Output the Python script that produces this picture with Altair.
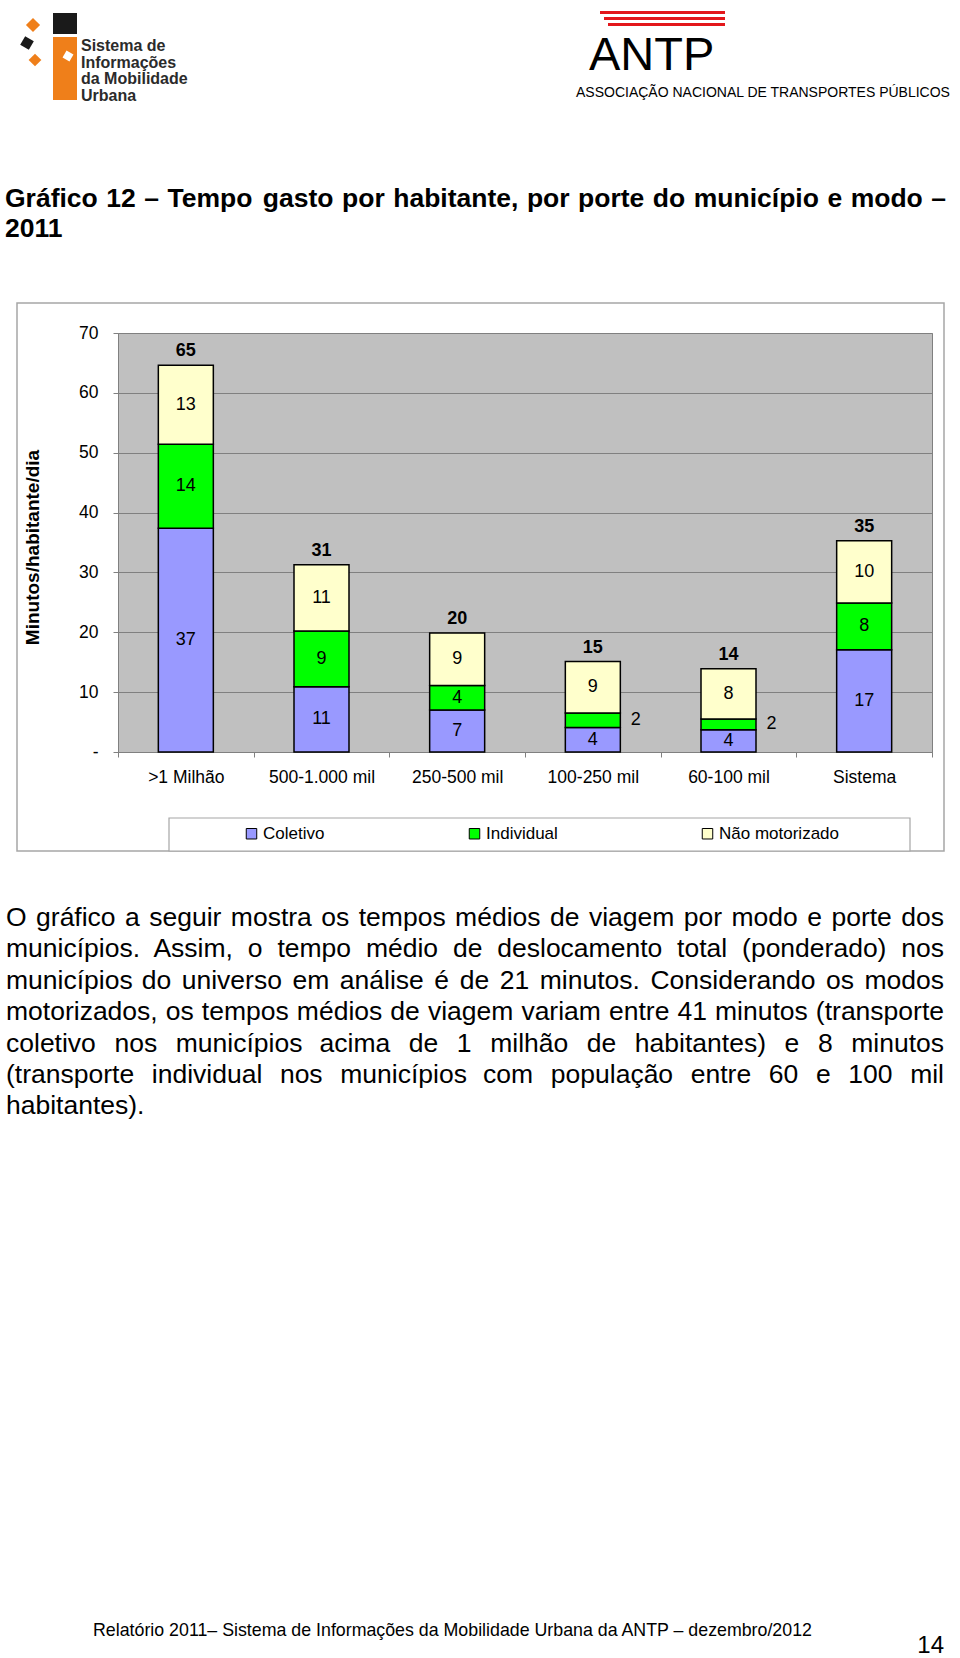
import unicodedata
import altair as alt
import pandas as pd

# ---------------- data ----------------
categories = [">1 Milhão", "500-1.000 mil", "250-500 mil", "100-250 mil", "60-100 mil", "Sistema"]
series = ["Coletivo", "Individual", "Não motorizado"]
coletivo = [37.4, 10.9, 7.0, 4.1, 3.7, 17.1]
individual = [14.0, 9.3, 4.1, 2.4, 1.8, 7.8]
nao_motorizado = [13.2, 11.1, 8.8, 8.6, 8.4, 10.4]
colors = ["#9999FF", "#00FF00", "#FFFFCC"]
y_ticks = [0, 10, 20, 30, 40, 50, 60, 70]
y_title = "Minutos/habitante/dia"

title_lines = ["Gráfico 12 – Tempo gasto por habitante, por porte do município e modo –", "2011"]
paragraph_lines = [
    "O gráfico a seguir mostra os tempos médios de viagem por modo e porte dos",
    "municípios. Assim, o tempo médio de deslocamento total (ponderado) nos",
    "municípios do universo em análise é de 21 minutos. Considerando os modos",
    "motorizados, os tempos médios de viagem variam entre 41 minutos (transporte",
    "coletivo nos municípios acima de 1 milhão de habitantes) e 8 minutos",
    "(transporte individual nos municípios com população entre 60 e 100 mil",
    "habitantes).",
]
footer_text = "Relatório 2011– Sistema de Informações da Mobilidade Urbana da ANTP – dezembro/2012"
page_number = "14"
logo_left_lines = ["Sistema de", "Informações", "da Mobilidade", "Urbana"]
logo_right_big = "ANTP"
logo_right_small = "ASSOCIAÇÃO NACIONAL DE TRANSPORTES PÚBLICOS"

FONT = "Liberation Sans, Arial, sans-serif"

# ---------------- layout ----------------
W, H = 960, 1658
X0, Y0 = 118, 333          # plot origin on the page
PW, PH = 814, 419          # plot size


def px(x):
    return x - X0


def py(y):
    return y - Y0


# ---------------- chart table ----------------
rows = []
for i, cat in enumerate(categories):
    base = 0.0
    for s, vals in zip(series, [coletivo, individual, nao_motorizado]):
        v = vals[i]
        rows.append(dict(cat=cat, serie=s, v=v, lo=base, hi=base + v, mid=base + v / 2,
                         outside=bool(s == "Individual" and v < 3)))
        base += v
df = pd.DataFrame(rows)
tot = pd.DataFrame({"cat": categories,
                    "total": [a + b + c for a, b, c in zip(coletivo, individual, nao_motorizado)]})

xenc = alt.X("cat:N", sort=categories,
             scale=alt.Scale(paddingInner=0, paddingOuter=0),
             axis=alt.Axis(title=None, labelAngle=0, tickBand="extent", grid=False,
                           domainColor="#808080", tickColor="#808080", tickSize=5,
                           labelFont=FONT, labelFontSize=17.5, labelColor="black",
                           labelPadding=11))
yscale = alt.Scale(domain=[0, 70], nice=False, zero=True)
yaxis = alt.Axis(values=y_ticks, title=y_title, grid=True, gridColor="#808080", gridWidth=1,
                 domain=False, tickColor="#808080", tickSize=5,
                 labelFont=FONT, labelFontSize=17.5, labelColor="black", labelPadding=15,
                 labelExpr="datum.value == 0 ? '-\u00a0\u00a0\u00a0\u00a0' : datum.label",
                 titleFont=FONT, titleFontSize=19, titleFontWeight="bold", titleColor="black",
                 titleAngle=270, titleX=px(32), titleY=py(547), titleAlign="center",
                 titleBaseline="middle")

bars = alt.Chart(df).mark_bar(width=55, stroke="black", strokeWidth=1.5).encode(
    x=xenc,
    y=alt.Y("lo:Q", scale=yscale, axis=yaxis),
    y2="hi:Q",
    color=alt.Color("serie:N", scale=alt.Scale(domain=series, range=colors),
                    legend=alt.Legend(title=None, orient="none", legendX=px(243), legendY=py(825),
                                      direction="horizontal", columns=3, columnPadding=141,
                                      symbolType="square", symbolSize=110, symbolStrokeWidth=1,
                                      symbolStrokeColor="black", labelFont=FONT, labelFontSize=17,
                                      labelColor="black", labelOffset=3, padding=0)),
    order=alt.Order("lo:Q"),
)

inside = alt.Chart(df).transform_filter("!datum.outside").mark_text(
    font=FONT, fontSize=18, baseline="middle", color="black").encode(
    x=alt.X("cat:N", sort=categories), y=alt.Y("mid:Q"), text=alt.Text("v:Q", format=".0f"))
outside = alt.Chart(df).transform_filter("datum.outside").mark_text(
    font=FONT, fontSize=18, baseline="middle", color="black", dx=43).encode(
    x=alt.X("cat:N", sort=categories), y=alt.Y("mid:Q"), text=alt.Text("v:Q", format=".0f"))
totals = alt.Chart(tot).mark_text(font=FONT, fontSize=18, fontWeight="bold", baseline="middle",
                                  dy=-14, color="black").encode(
    x=alt.X("cat:N", sort=categories), y=alt.Y("total:Q"), text=alt.Text("total:Q", format=".0f"))

chart_layer = alt.layer(bars, inside, outside, totals)

# ---------------- page decorations ----------------
ONE = alt.Data(values=[{"k": 1}])


def box(x1, y1, x2, y2, **kw):
    return alt.Chart(ONE).mark_rect(**kw).encode(
        x=alt.value(px(x1)), x2=alt.value(px(x2)), y=alt.value(py(y1)), y2=alt.value(py(y2)))


def label(text, x, y, **kw):
    return alt.Chart(ONE).mark_text(text=text, **kw).encode(x=alt.value(px(x)), y=alt.value(py(y)))


def diamond(x, y, side, color, angle=45):
    return alt.Chart(ONE).mark_square(size=side * side, angle=angle, color=color, opacity=1).encode(
        x=alt.value(px(x)), y=alt.value(py(y)))


# Arial / Liberation Sans advance widths (1/1000 em)
REG = dict(zip("abcdefghijklmnopqrstuvwxyz",
               [556, 556, 500, 556, 556, 278, 556, 556, 222, 222, 500, 222, 833, 556, 556, 556, 556, 333,
                500, 278, 556, 500, 722, 500, 500, 500]))
REG.update(dict(zip("ABCDEFGHIJKLMNOPQRSTUVWXYZ",
                    [667, 667, 722, 722, 667, 611, 778, 722, 278, 500, 667, 556, 833, 722, 778, 667, 778,
                     722, 667, 611, 722, 667, 944, 667, 667, 611])))
BOLD = dict(zip("abcdefghijklmnopqrstuvwxyz",
                [556, 611, 556, 611, 556, 333, 611, 611, 278, 278, 556, 278, 889, 611, 611, 611, 611, 389,
                 556, 333, 611, 556, 778, 556, 556, 500]))
BOLD.update(dict(zip("ABCDEFGHIJKLMNOPQRSTUVWXYZ",
                     [722, 722, 722, 722, 667, 611, 778, 722, 278, 556, 722, 611, 833, 722, 778, 667, 778,
                      722, 667, 611, 722, 667, 944, 667, 667, 611])))
for t in (REG, BOLD):
    t.update({" ": 278, ".": 278, ",": 278, "(": 333, ")": 333, "-": 333, "–": 556, "/": 278,
              ">": 584})
    t.update({d: 556 for d in "0123456789"})


def text_width(s, table, size):
    total = 0
    for ch in s:
        base = unicodedata.normalize("NFD", ch)[0]
        total += table.get(ch, table.get(base, 556))
    return total / 1000 * size


def layout_words(lines, size, left, right, first_baseline, step, table, justify_last=False):
    out = []
    for li, line in enumerate(lines):
        words = line.split(" ")
        widths = [text_width(w, table, size) for w in words]
        last = li == len(lines) - 1
        if len(words) > 1 and (not last or justify_last):
            gap = (right - left - sum(widths)) / (len(words) - 1)
        else:
            gap = table[" "] / 1000 * size
        x = left
        for w, wd in zip(words, widths):
            out.append({"w": w, "px": px(x), "py": py(first_baseline + li * step)})
            x += wd + gap
    return pd.DataFrame(out)


def words_layer(frame, size, weight="normal"):
    return alt.Chart(frame).mark_text(font=FONT, fontSize=size, fontWeight=weight, align="left",
                                      baseline="alphabetic", color="black").encode(
        x=alt.X("px:Q", scale=None, axis=None),
        y=alt.Y("py:Q", scale=None, axis=None),
        text="w:N")


title_words = layout_words(title_lines, 26.5, 5, 946, 207, 30, BOLD)
body_words = layout_words(paragraph_lines, 26.5, 6, 944, 926, 31.4, REG)

ORANGE = "#EF7F1A"
page_layers = [
    # left logo
    box(53, 13, 77, 34, color="#1a1a1a"),
    box(53, 37, 77, 100, color=ORANGE),
    diamond(68, 56, 8, "white", angle=30),
    diamond(33, 25, 10, ORANGE),
    diamond(27, 43, 10, "#1a1a1a", angle=30),
    diamond(35, 60, 9, ORANGE),
] + [
    label(t, 81, 51 + i * 16.7, font=FONT, fontSize=16, fontWeight="bold", color="#2b2b2b",
          align="left", baseline="alphabetic")
    for i, t in enumerate(logo_left_lines)
] + [
    # right logo
    box(600, 11, 725, 14, color="#E3171B"),
    box(604, 17, 725, 20, color="#E3171B"),
    box(608, 23, 725, 26, color="#E3171B"),
    label(logo_right_big, 589, 70, font=FONT, fontSize=47, color="black", align="left",
          baseline="alphabetic"),
    label(logo_right_small, 576, 97, font=FONT, fontSize=14, color="black", align="left",
          baseline="alphabetic"),
    # title and text
    words_layer(title_words, 26.5, "bold"),
    words_layer(body_words, 26.5),
    label(footer_text, 93, 1635.5, font=FONT, fontSize=17.8, color="black", align="left",
          baseline="alphabetic"),
    label(page_number, 944, 1653, font=FONT, fontSize=24, color="black", align="right",
          baseline="alphabetic"),
    # chart frame and legend box
    box(17, 303, 944, 851, fillOpacity=0, stroke="#A6A6A6", strokeWidth=1.5),
    box(169, 818, 910, 851, color="white", stroke="#A6A6A6", strokeWidth=1.2),
]

chart = alt.layer(*page_layers, chart_layer).resolve_scale(
    x="independent", y="independent"
).properties(
    width=PW, height=PH,
    autosize=alt.AutoSizeParams(type="none"),
    padding={"left": X0, "top": Y0, "right": W - X0 - PW, "bottom": H - Y0 - PH},
).configure(background="white").configure_view(
    fill="#C0C0C0", stroke="#808080", strokeWidth=1
)

chart.save("out.html", embed_options={"renderer": "svg", "actions": False})
